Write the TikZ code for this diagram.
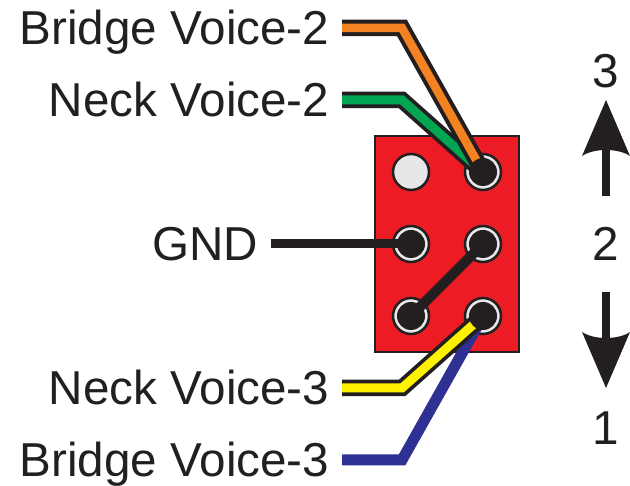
\documentclass[tikz,border=0pt]{standalone}
\usepackage{fontspec}
\setmainfont{Liberation Sans}
\definecolor{boardred}{HTML}{ED1C24}
\definecolor{pinblack}{HTML}{231F20}
\definecolor{holegrey}{HTML}{E6E7E8}
\definecolor{wireorange}{HTML}{F58220}
\definecolor{wiregreen}{HTML}{00A651}
\definecolor{wireyellow}{HTML}{FFF200}
\definecolor{wireblue}{HTML}{2E3192}
\tikzset{
  hole/.style={circle,draw=pinblack,line width=2.5pt,fill=holegrey,minimum size=36pt,inner sep=0pt},
  pin/.style={circle,fill=pinblack,minimum size=28pt,inner sep=0pt},
  lbl/.style={font=\fontsize{47.6}{56}\selectfont,text=pinblack,anchor=east,inner xsep=12.5pt,inner ysep=0pt,text height=40pt,text depth=6pt},
  num/.style={font=\fontsize{47.6}{56}\selectfont,text=pinblack,inner sep=0pt},
  wirecase/.style={draw=pinblack,line width=16.5pt},
  bigshaft/.style={draw=pinblack,line width=8pt},
  bighead/.pic={\fill[pinblack] (0,0) -- (24,56) .. controls (12,48) and (-12,48) .. (-24,56) -- cycle;}
}
\begin{document}
\begin{tikzpicture}[x=1pt,y=-1pt]
      \useasboundingbox (0,0) rectangle (630,486);
      \draw[fill=boardred,draw=pinblack,line width=1.8pt] (375,136) rectangle (519,352);
      \node[hole] (h11) at (411,172) {};
      \node[hole] (h12) at (483,172) {};
      \node[hole] (h21) at (411,244) {};
      \node[hole] (h22) at (483,244) {};
      \node[hole] (h31) at (411,316) {};
      \node[hole] (h32) at (483,316) {};
      \node[lbl] (bv2) at (342,28) {Bridge Voice-2};
      \node[lbl] (nv2) at (342,100) {Neck Voice-2};
      \node[lbl] (gnd) at (271,244) {GND};
      \node[lbl] (nv3) at (342,388) {Neck Voice-3};
      \node[lbl] (bv3) at (342,460) {Bridge Voice-3};
      \coordinate (bbend2) at (402,28);
      \coordinate (nbend2) at (402,100);
      \coordinate (nbend3) at (402,388);
      \coordinate (bbend3) at (402,460);
      % wires, the pins go on top of them
      \draw[wirecase] (nv2.east) -- (nbend2) -- (h12.center);
      \draw[wiregreen,line width=9pt] (nv2.east) -- (nbend2) -- (h12.center);
      \draw[wirecase] (bv2.east) -- (bbend2) -- (h12.center);
      \draw[wireorange,line width=8.5pt] (bv2.east) -- (bbend2) -- (h12.center);
      \draw[wireblue,line width=11pt] (bv3.east) -- (bbend3) -- (h32.center);
      \draw[wirecase] (nv3.east) -- (nbend3) -- (h32.center);
      \draw[wireyellow,line width=9pt] (nv3.east) -- (nbend3) -- (h32.center);
      \draw[pinblack,line width=9pt] (gnd.east) -- (h21.center);
      \draw[pinblack,line width=10pt] (h31.center) -- (h22.center);
      \node[pin] (p12) at (h12) {};
      \node[pin] (p21) at (h21) {};
      \node[pin] (p22) at (h22) {};
      \node[pin] (p31) at (h31) {};
      \node[pin] (p32) at (h32) {};
      % switch positions
      \node[num] (pos3) at (606,71) {3};
      \node[num] (pos2) at (606,244) {2};
      \node[num] (pos1) at (606,428) {1};
      \coordinate (uptail) at (606,196);
      \coordinate (upneck) at (606,140);
      \coordinate (uptip) at (606,100);
      \coordinate (downtail) at (606,292);
      \coordinate (downneck) at (606,348);
      \coordinate (downtip) at (606,388);
      \draw[bigshaft] (uptail) -- (upneck);
      \draw[bigshaft] (downtail) -- (downneck);
      \pic at (uptip) {bighead};
      \pic[yscale=-1] at (downtip) {bighead};
\end{tikzpicture}
\end{document}
